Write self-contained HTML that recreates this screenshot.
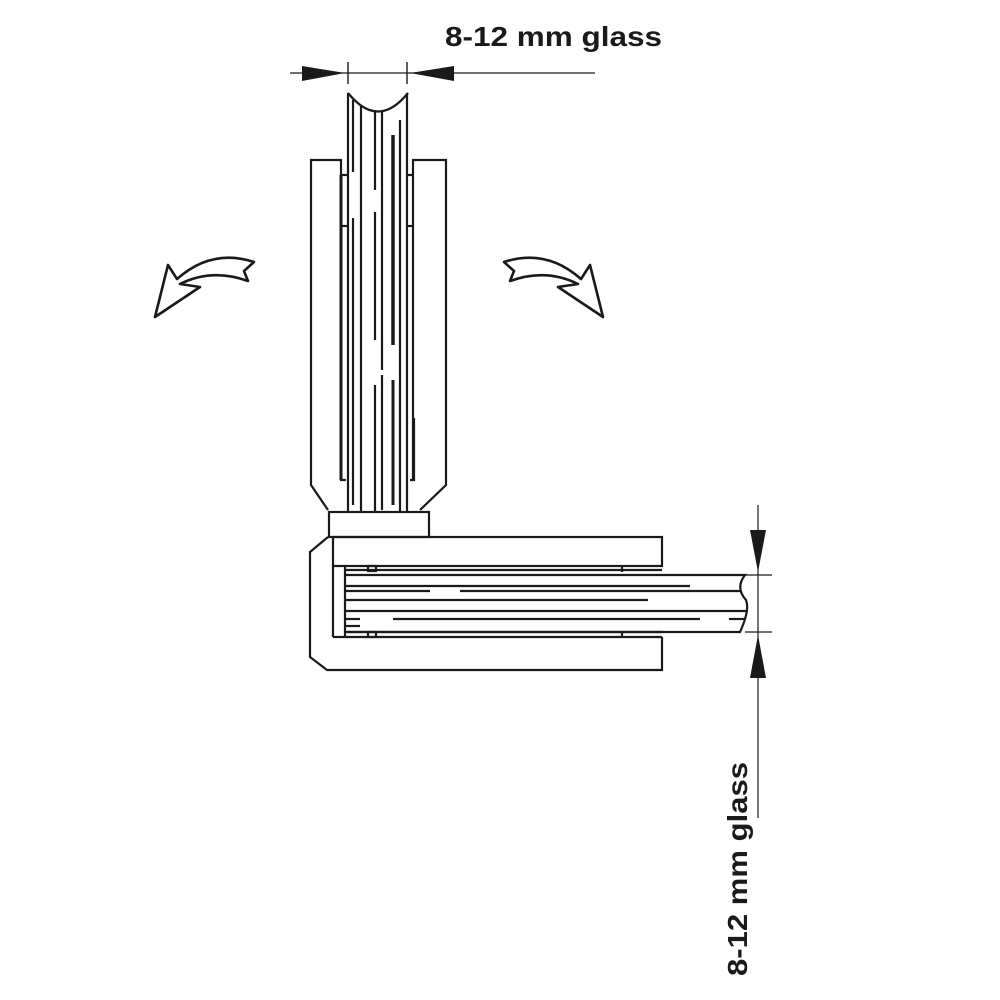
<!DOCTYPE html>
<html><head><meta charset="utf-8"><style>html,body{margin:0;padding:0;background:#fff}svg{display:block}</style></head>
<body>
<svg width="1000" height="1000" viewBox="0 0 1000 1000" xmlns="http://www.w3.org/2000/svg">
<g fill="none" stroke="#1a1a1a" stroke-width="2.2" stroke-linejoin="miter">
<line x1="290" y1="73" x2="595" y2="73" stroke-width="1.2"/>
<line x1="348" y1="62" x2="348" y2="84" stroke-width="1.4"/>
<line x1="407" y1="62" x2="407" y2="84" stroke-width="1.4"/>
<polygon points="302,66 302,81 345,73" fill="#1a1a1a" stroke="none"/>
<polygon points="454,66 454,81 410,73" fill="#1a1a1a" stroke="none"/>

<path d="M348,93 Q378,130 408,93"/>
<line x1="348" y1="93" x2="348" y2="512"/>
<line x1="407" y1="93" x2="407" y2="512"/>
<line x1="353" y1="100" x2="353" y2="172"/>
<line x1="353" y1="218" x2="353" y2="505"/>
<line x1="361" y1="105" x2="361" y2="512"/>
<line x1="375" y1="110" x2="375" y2="190"/>
<line x1="375" y1="212" x2="375" y2="340"/>
<line x1="375" y1="385" x2="375" y2="512"/>
<line x1="382" y1="112" x2="382" y2="370"/>
<line x1="382" y1="375" x2="382" y2="510"/>
<line x1="393" y1="135" x2="393" y2="345" stroke-width="3.5"/>
<line x1="393" y1="380" x2="393" y2="505" stroke-width="3"/>
<line x1="400" y1="120" x2="400" y2="512"/>

<path d="M341,175 L341,160 L311,160 L311,485 L328,510"/>
<line x1="341" y1="175" x2="341" y2="480" stroke-width="3"/>
<line x1="341" y1="175" x2="348" y2="175"/>
<line x1="341" y1="226" x2="348" y2="226"/>
<path d="M341,418 L341,480 L346,480"/>
<path d="M413,175 L413,160 L446,160 L446,485 L420,510"/>
<line x1="413" y1="175" x2="413" y2="480"/>
<line x1="407" y1="175" x2="413" y2="175"/>
<line x1="407" y1="226" x2="413" y2="226"/>
<path d="M414,418 L414,480 L410,480"/>

<rect x="329" y="512" width="100" height="25"/>

<path d="M328,537 L310,552 L310,657 L327,670 L662,670 L662,637"/>
<rect x="333" y="537" width="329" height="29"/>
<line x1="333" y1="566" x2="333" y2="637"/>
<line x1="333" y1="637" x2="662" y2="637"/>
<line x1="345" y1="566" x2="345" y2="637"/>
<line x1="345" y1="570" x2="662" y2="570"/>
<line x1="345" y1="632" x2="662" y2="632"/>
<rect x="368" y="566" width="8" height="5"/>
<rect x="368" y="632" width="8" height="5"/>
<line x1="622" y1="566" x2="622" y2="572"/>
<line x1="622" y1="632" x2="622" y2="637"/>

<path d="M345,575 L745,575 Q735,588 746,600 Q750,610 740,632 L345,632"/>
<line x1="345" y1="586" x2="690" y2="586"/>
<line x1="345" y1="591" x2="430" y2="591"/>
<line x1="460" y1="591" x2="740" y2="591"/>
<line x1="345" y1="600" x2="648" y2="600"/>
<line x1="345" y1="611" x2="748" y2="611"/>
<line x1="345" y1="619" x2="360" y2="619"/>
<line x1="393" y1="619" x2="700" y2="619"/>
<line x1="729" y1="619" x2="745" y2="619"/>
<line x1="345" y1="626" x2="360" y2="626"/>

<line x1="758" y1="505" x2="758" y2="818" stroke-width="1.2"/>
<line x1="745" y1="575" x2="772" y2="575" stroke-width="1.2"/>
<line x1="745" y1="632" x2="772" y2="632" stroke-width="1.2"/>
<polygon points="750,530 766,530 758,572" fill="#1a1a1a" stroke="none"/>
<polygon points="750,678 766,678 758,635" fill="#1a1a1a" stroke="none"/>

<path d="M155,317 L168,265 L177,279 Q212,248 254,262 L244,271 L248,281 Q212,268 180,284 L200,287 Z" stroke-width="2.6" stroke-linejoin="round"/>
<path d="M603,317 L590,265 L581,279 Q546,248 504,262 L514,271 L510,281 Q546,268 578,284 L558,287 Z" stroke-width="2.6" stroke-linejoin="round"/>
</g>
<text x="445" y="46" font-family="Liberation Sans, sans-serif" font-weight="bold" font-size="28" fill="#1a1a1a" textLength="217" lengthAdjust="spacingAndGlyphs">8-12 mm glass</text>
<text transform="translate(747,976) rotate(-90)" font-family="Liberation Sans, sans-serif" font-weight="bold" font-size="28" fill="#1a1a1a" textLength="214" lengthAdjust="spacingAndGlyphs">8-12 mm glass</text>
</svg>
</body></html>
